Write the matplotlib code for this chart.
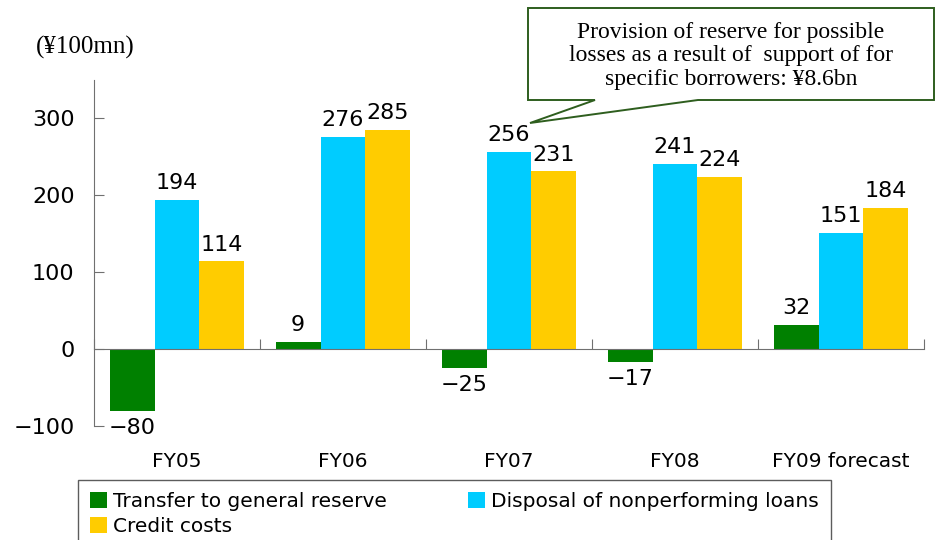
import numpy as np
import matplotlib.pyplot as plt
from matplotlib.patches import Polygon

plt.rcParams['font.family'] = ['DejaVu Sans']

# data
categories = ['FY05', 'FY06', 'FY07', 'FY08', 'FY09 forecast']
transfer = [-80, 9, -25, -17, 32]
disposal = [194, 276, 256, 241, 151]
credit = [114, 285, 231, 224, 184]
series_names = ['Transfer to general reserve', 'Disposal of nonperforming loans', 'Credit costs']
colors = ['#008000', '#00CCFF', '#FFCC00']

fig = plt.figure(figsize=(9.36, 5.4), dpi=100)
ax = fig.add_axes([94/936, 1-426/540, 830/936, 346/540])

x = np.arange(len(categories))
w = 0.27
bars = []
for k, (vals, c, name) in enumerate(zip([transfer, disposal, credit], colors, series_names)):
    b = ax.bar(x + (k-1)*w, vals, w, color=c, label=name)
    bars.append(b)
    for xi, v in zip(x + (k-1)*w, vals):
        txt = str(v) if v >= 0 else '\u2212' + str(-v)
        if v >= 0:
            ax.annotate(txt, (xi, v), xytext=(0, 5), textcoords='offset points',
                        ha='center', va='bottom', fontsize=16)
        else:
            ax.annotate(txt, (xi, v), xytext=(0, -5), textcoords='offset points',
                        ha='center', va='top', fontsize=16)

ax.set_xlim(-0.5, len(categories)-0.5)
ax.set_ylim(-100, 350)
ax.set_yticks([-100, 0, 100, 200, 300])
ax.set_yticklabels(['\u2212100', '0', '100', '200', '300'], fontsize=16)
ax.set_xticks(np.arange(len(categories)+1) - 0.5)
ax.set_xticklabels([])
ax.tick_params(axis='y', direction='in', length=7, color='#707070', pad=14)
ax.tick_params(axis='x', direction='in', length=7, color='#707070')
for s in ['top', 'right']:
    ax.spines[s].set_visible(False)
ax.spines['left'].set_color('#707070')
ax.spines['bottom'].set_color('#707070')
ax.spines['bottom'].set_position(('data', 0))
ax.spines['left'].set_bounds(-100, 350)

for xi, name in zip(x, categories):
    ax.text(xi, -0.104, name, transform=ax.get_xaxis_transform(),
            ha='center', va='center', fontsize=14.5)

fig.text(36/936, 1-47/540, '(\u00a5100mn)', fontsize=18, family='Liberation Serif',
         ha='left', va='center')

# callout box
pts = [(528, 8), (934, 8), (934, 100), (698, 100), (530, 123), (595, 100), (528, 100)]
poly = Polygon([(px/936, 1-py/540) for px, py in pts], closed=True,
               transform=fig.transFigure, facecolor='white', edgecolor='#2E5E1E', lw=1.4)
fig.add_artist(poly)
fig.text(731/936, 1-56/540,
         'Provision of reserve for possible\nlosses as a result of  support of for\nspecific borrowers: \u00a58.6bn',
         family='Liberation Serif', fontsize=17, ha='center', va='center', linespacing=1.18)

# Excel fills legend row by row; reorder for matplotlib's column fill
order = [0, 2, 1]
leg = fig.legend(handles=[bars[i] for i in order], labels=[series_names[i] for i in order],
                 loc='upper left', bbox_to_anchor=(78/936, 1-485/540, 753/936, 0.01),
                 mode='expand', ncol=2, fontsize=14.5,
                 frameon=True, fancybox=False, edgecolor='#333333',
                 handlelength=0.85, handleheight=0.85, handletextpad=0.3,
                 borderpad=0.6, labelspacing=0.3, borderaxespad=0)
leg.get_frame().set_linewidth(1.0)

fig.savefig('out.png', dpi=100)
